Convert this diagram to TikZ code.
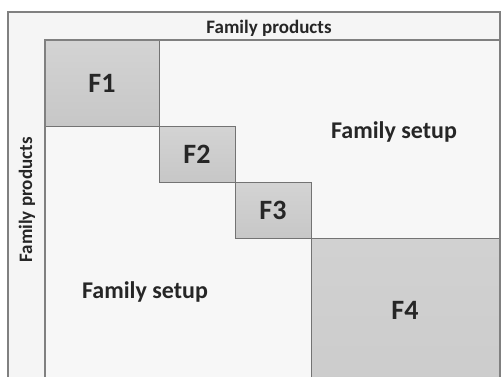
\documentclass[tikz,border=0pt]{standalone}
\usepackage{fontspec}
\setmainfont{Carlito}
\begin{document}
\begin{tikzpicture}[x=1pt,y=-1pt,
  frame/.style={draw=black!50,line width=1.2pt},
  fbox/.style={draw=black!55,line width=1pt,top color=black!17,bottom color=black!22},
  lbl/.style={font=\bfseries\fontsize{19}{21}\selectfont,text=black!85},
  setup/.style={font=\bfseries\fontsize{24}{26}\selectfont,text=black!85},
  fl/.style={font=\bfseries\fontsize{28}{30}\selectfont,text=black!85}]
\useasboundingbox (0,0) rectangle (501,376);
\fill[white] (0,0) rectangle (501,376);
\begin{scope}
\clip (0,0) rectangle (501,376);
\fill[black!4] (8,12) rectangle (500,390);
\fill[black!3] (45,40) rectangle (500,390);
\draw[fbox] (45,40) rectangle (159,126);
\draw[fbox] (159,126) rectangle (235,182);
\draw[fbox] (235,182) rectangle (311.5,238.5);
\draw[fbox,top color=black!18,bottom color=black!20] (311.5,238.5) rectangle (500,390);
\draw[frame] (8,390) -- (8,12) -- (500,12) -- (500,390);
\draw[frame] (45,390) -- (45,40) -- (500,40);
\end{scope}
\node[lbl] (top) at (269,28) {Family products};
\node[lbl,rotate=90] (left) at (27,200) {Family products};
\node[fl] (f1) at (102,83) {F1};
\node[fl] (f2) at (197,154) {F2};
\node[fl] (f3) at (273,210) {F3};
\node[fl] (f4) at (405,310) {F4};
\node[setup] (s1) at (394,132) {Family setup};
\node[setup] (s2) at (145,292) {Family setup};
\end{tikzpicture}
\end{document}
